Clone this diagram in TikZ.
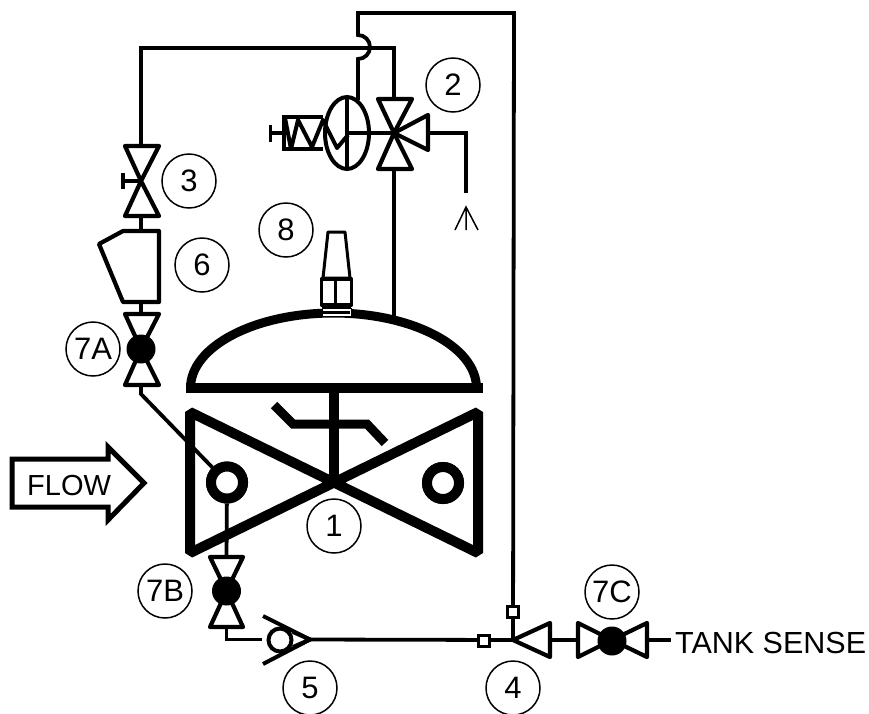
\documentclass[tikz,border=0pt]{standalone}
\usepackage{fontspec}
\setmainfont{Liberation Sans}
\begin{document}
\begin{tikzpicture}[x=1pt,y=-1pt,
  pipe/.style={draw=black,line width=3.8pt,line join=miter},
  sym/.style={draw=black,line width=4.2pt,line join=round,fill=white},
  heavy/.style={draw=black,line width=10pt,line join=bevel},
  tag/.style={circle,draw=black,line width=1.5pt,minimum size=54pt,inner sep=0pt,font=\fontsize{31}{31}\selectfont},
  ball/.style={circle,fill=black,draw=none,minimum size=29pt,inner sep=0pt},
  ring/.style={circle,draw=black,line width=10pt,fill=white,minimum size=32pt,inner sep=0pt},
  port/.style={rectangle,draw=black,line width=3pt,fill=white,minimum size=11pt,inner sep=0pt},
  vlabel/.style={font=\fontsize{30.5}{30.5}\selectfont,inner sep=0pt}]
\useasboundingbox (0,0) rectangle (869,713);
% coordinates
\coordinate (topL) at (358,13);
\coordinate (topR) at (514,13);
\coordinate (hopA) at (358,35);
\coordinate (hopB) at (358,59);
\coordinate (solTop) at (358,100);
\coordinate (h1) at (141,48);
\coordinate (h2) at (394,48);
\coordinate (v2) at (394,133);
\coordinate (v2t) at (394,99);
\coordinate (v2b) at (394,169);
\coordinate (v2r) at (428,133);
\coordinate (ventC) at (466,133);
\coordinate (ventE) at (466,193);
\coordinate (sol) at (347,133);
\coordinate (domeP) at (394,316);
\coordinate (v3) at (141,181);
\coordinate (v3t) at (141,146);
\coordinate (v3b) at (141,216);
\coordinate (f6t) at (141,231);
\coordinate (f6b) at (141,302);
\coordinate (v7a) at (141,349);
\coordinate (v7at) at (141,314);
\coordinate (v7ab) at (141,385);
\coordinate (bend7a) at (141,394);
\coordinate (v7b) at (226.5,591);
\coordinate (v7bt) at (226.5,557);
\coordinate (v7bb) at (226.5,627);
\coordinate (bend7b) at (226.5,639.5);
\coordinate (chkIn) at (262,639.5);
\coordinate (chkOut) at (310,639.5);
\coordinate (v4) at (513,640);
\coordinate (v4r) at (550,640);
\coordinate (v7cl) at (578,640);
\coordinate (v7cr) at (647,640);
\coordinate (sense) at (671,640);
% rings
\node[ring] (ringL) at (227,482.5) {};
\node[ring] (ringR) at (443,483) {};
% pipes
\draw[pipe] (ventE) -- (ventC) -- (v2r);
\draw[pipe] (v4) -- (topR) -- (topL) -- (hopA)
  arc[start angle=-90,end angle=90,radius=12] -- (solTop);
\draw[pipe] (v3t) -- (h1) -- (h2) -- (v2t);
\draw[pipe] (v2b) -- (domeP);
\draw[pipe] (v3b) -- (f6t);
\draw[pipe] (f6b) -- (v7at);
\draw[pipe] (v7ab) -- (bend7a) -- (ringL);
\draw[pipe] (ringL) -- (v7bt);
\draw[pipe] (v7bb) -- (bend7b) -- (chkIn);
\draw[pipe] (chkOut) -- (v4);
\draw[pipe] (v4r) -- (v7cl);
\draw[pipe] (v7cr) -- (sense);
% main valve
\draw[heavy] (190,412) -- (478,553) -- (478,412) -- (190,553) -- cycle;
\node[ring] at (227,482.5) {};
\node[ring] at (443,483) {};
\draw[pipe,line width=10pt] (333.5,388) -- (333.5,483);
\draw[heavy,line width=9pt,line join=miter] (274,405) -- (293,424) -- (367,424) -- (385,443);
% actuator
\draw[heavy,line width=9pt,fill=white] (190.5,388) arc[start angle=180,end angle=360,x radius=143,y radius=75];
\draw[heavy] (186,388) -- (483,388);
% item 8
\draw[sym,line width=3pt] (328,232) -- (345,232) -- (350,278) -- (323,278) -- cycle;
\draw[sym,line width=3.5pt] (321.5,279) rectangle (351.5,305);
\draw[pipe,line width=3pt] (335.5,277) -- (335.5,305);
\draw[fill=white,draw=black,line width=1pt] (322,308) rectangle (351,316);
\fill[black] (322,305) rectangle (351,308);
\fill[black] (323,311) rectangle (350,314);
% three-way valve 2
\draw[sym] (378,99) -- (412,99) -- (v2) -- cycle;
\draw[sym] (378,169) -- (412,169) -- (v2) -- cycle;
\draw[sym] (428,115) -- (428,150) -- (v2) -- cycle;
% solenoid
\draw[draw=black,line width=4pt,fill=white] (sol) ellipse[x radius=22,y radius=36];
\draw[pipe,line width=4pt] (347,98) -- (347,169);
\draw[pipe] (sol) -- (v2);
\draw[pipe] (323,117) -- (284,117) -- (284,149) -- (323,149);
\draw[pipe] (270,133) -- (284,133);
\draw[pipe] (270.5,125) -- (270.5,142);
\draw[pipe,line width=4pt,line join=round] (285,118) -- (291,149) -- (298,120) -- (312,147) -- (323,120) -- (337,148) -- (348,135);
% vent arrow
\draw[draw=black,line width=1.5pt] (455,230) -- (466,207) -- (478,230) (466,207) -- (466,230);
% valve 3
\draw[sym] (125,146) -- (159,146) -- (v3) -- cycle;
\draw[sym] (125,216) -- (159,216) -- (v3) -- cycle;
\draw[pipe] (123,181) -- (v3);
\draw[pipe] (123,173) -- (123,189);
% filter 6
\draw[sym] (99,244) -- (123,231) -- (159,231) -- (159,302) -- (123,302) -- cycle;
% valve 7A
\draw[sym] (125,314) -- (159,314) -- (v7a) -- cycle;
\draw[sym] (125,385) -- (159,385) -- (v7a) -- cycle;
\node[ball] (ball7a) at (v7a) {};
% valve 7B
\draw[sym] (210,557) -- (243,557) -- (v7b) -- cycle;
\draw[sym] (210,627) -- (243,627) -- (v7b) -- cycle;
\node[ball] (ball7b) at (v7b) {};
% check valve 5
\draw[draw=black,line width=4pt,line join=miter] (263,616) -- (chkOut) -- (263,664);
\draw[draw=black,line width=4pt,fill=white] (280,640) circle[radius=11.5];
\draw[draw=black,line width=4pt] (293,647) -- (chkOut) (293,632) -- (chkOut);
% valve 4
\draw[sym] (550,623) -- (550,657) -- (v4) -- cycle;
\node[port] (p4a) at (484,641) {};
\node[port] (p4b) at (513,612) {};
% valve 7C
\draw[sym] (578,623) -- (578,657) -- (612,640) -- cycle;
\draw[sym] (647,623) -- (647,657) -- (612,640) -- cycle;
\node[ball] (ball7c) at (612,641) {};
% tags
\node[tag] (t1) at (334,526) {1};
\node[tag] (t2) at (453,85) {2};
\node[tag] (t3) at (189,181) {3};
\node[tag] (t4) at (513,688) {4};
\node[tag] (t5) at (310,688) {5};
\node[tag] (t6) at (202,265) {6};
\node[tag] (t7a) at (93,349) {7A};
\node[tag] (t7b) at (165,591) {7B};
\node[tag] (t7c) at (612,592) {7C};
\node[tag] (t8) at (286,230) {8};
% flow arrow
\draw[draw=black,line width=5pt,line join=miter] (12,459) -- (108,459) -- (108,447) -- (144,483) -- (108,520) -- (108,507) -- (12,507) -- cycle;
\node[vlabel,anchor=base west,font=\fontsize{29}{29}\selectfont] (flow) at (27,495) {FLOW};
\node[vlabel,anchor=base west] (tank) at (675,653) {TANK SENSE};
\end{tikzpicture}
\end{document}
